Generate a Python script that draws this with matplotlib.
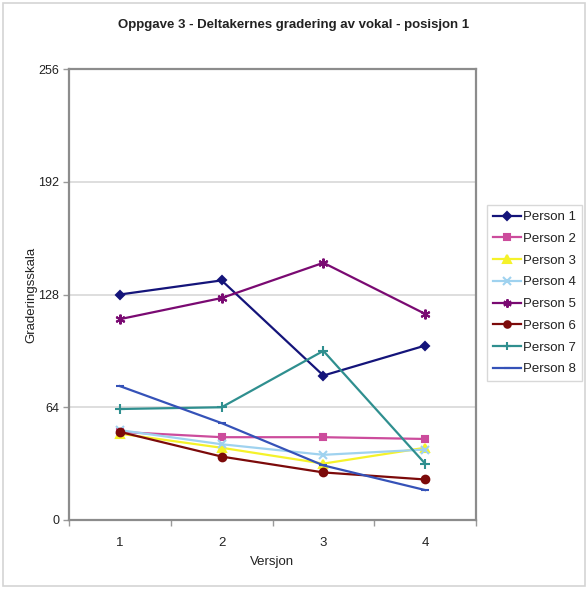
import matplotlib
matplotlib.use("Agg")
import matplotlib.pyplot as plt
from matplotlib.patches import Rectangle

versions = ["1", "2", "3", "4"]
persons = ["Person 1", "Person 2", "Person 3", "Person 4",
           "Person 5", "Person 6", "Person 7", "Person 8"]
person_1 = [128, 136, 82, 99]
person_2 = [50, 47, 47, 46]
person_3 = [49, 41, 32, 41]
person_4 = [51, 43, 37, 40]
person_5 = [114, 126, 146, 117]
person_6 = [50, 36, 27, 23]
person_7 = [63, 64, 96, 32]
person_8 = [76, 55, 31, 17]
y_ticks = [0, 64, 128, 192, 256]

series = [person_1, person_2, person_3, person_4,
          person_5, person_6, person_7, person_8]
colors = ["#14147a", "#cc4c9c", "#f5f22a", "#9fd2ef",
          "#7a0a72", "#7c0a0a", "#2f8f8f", "#3552b8"]
markers = ["D", "s", "^", "x", (6, 2, 0), "o", "+", "_"]
msizes = [4.5, 5, 6, 6, 7, 5.5, 7.5, 5.5]

plt.rcParams["font.family"] = ["Liberation Sans", "DejaVu Sans"]

fig = plt.figure(figsize=(5.88, 5.89), dpi=100)
fig.patches.append(Rectangle((3 / 588, 3 / 589), 582 / 588, 583 / 589,
                             transform=fig.transFigure, fill=False,
                             edgecolor="#d4d4d4", linewidth=1.2))

ax = fig.add_axes([69 / 588, (589 - 520) / 589, 407 / 588, 451 / 589])

xpos = [i + 0.5 for i in range(len(versions))]
for name, vals, c, m, ms in zip(persons, series, colors, markers, msizes):
    ax.plot(xpos, vals, color=c, linewidth=1.6, marker=m, markersize=ms,
            markeredgewidth=1.5, markerfacecolor=c, markeredgecolor=c,
            label=name, zorder=3)

ax.set_xlim(0, len(versions))
ax.set_ylim(y_ticks[0], y_ticks[-1])
ax.set_yticks(y_ticks)
ax.set_yticklabels([str(t) for t in y_ticks], fontsize=9, color="#222222")
ax.set_xticks(range(len(versions) + 1))
ax.set_xticklabels([])
ax.set_xticks(xpos, minor=True)
ax.set_xticklabels(versions, minor=True, fontsize=9.5, color="#222222")
ax.tick_params(axis="x", which="minor", length=0, pad=12)
ax.tick_params(axis="x", which="major", length=4, width=1, color="#9a9a9a",
               direction="out")
ax.tick_params(axis="y", length=4, width=1, color="#9a9a9a",
               direction="out", pad=3)

ax.grid(axis="y", color="#d8d8d8", linewidth=1.2, zorder=0)
ax.set_axisbelow(True)
for sp in ax.spines.values():
    sp.set_color("#8c8c8c")
    sp.set_linewidth(1.6)

ax.set_xlabel("Versjon", fontsize=9.5, color="#222222", labelpad=5)
ax.set_ylabel("Graderingsskala", fontsize=9.5, color="#222222", labelpad=1)

fig.text(294 / 588, 1 - 25 / 589,
         "Oppgave 3 - Deltakernes gradering av vokal - posisjon 1",
         ha="center", va="center", fontsize=9.5, fontweight="bold",
         color="#222222")

leg = ax.legend(loc="upper left", bbox_to_anchor=(487 / 588, 1 - 205 / 589),
                bbox_transform=fig.transFigure, fontsize=9.5, frameon=True,
                fancybox=False, borderpad=0.45, labelspacing=0.72,
                handlelength=2.1, handletextpad=0.2, borderaxespad=0,
                markerscale=0.85)
leg.get_frame().set_edgecolor("#cfcfcf")
leg.get_frame().set_linewidth(1.0)
for t in leg.get_texts():
    t.set_color("#222222")

fig.savefig("out.png", dpi=100, facecolor="white")
